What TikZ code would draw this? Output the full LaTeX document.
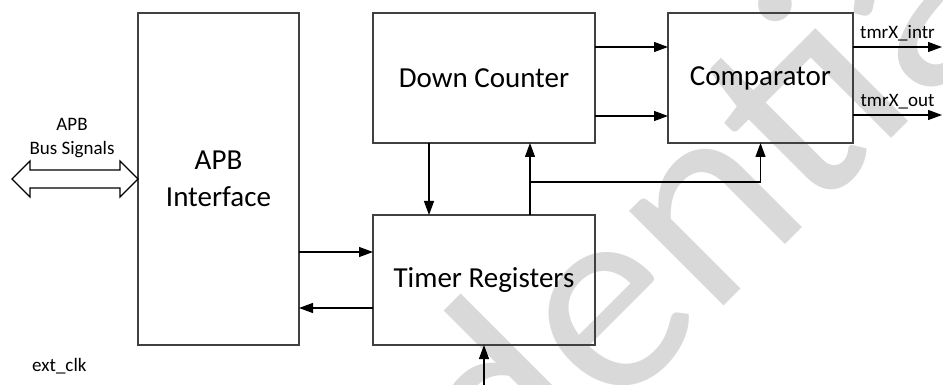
\documentclass[tikz,border=0pt]{standalone}
\usepackage{fontspec}
\setmainfont{Carlito}
\usetikzlibrary{arrows.meta, positioning, calc}

\begin{document}
\begin{tikzpicture}[
    x=1pt, y=-1pt,
    % node styles
    block/.style={rectangle, draw=black!75, line width=1.4pt, align=center, inner sep=0pt, outer sep=0pt, font=\fontsize{29}{37}\selectfont},
    siglabel/.style={inner sep=2pt, font=\fontsize{19}{24}\selectfont, align=center},
    watermark/.style={text=black!15, rotate=45, inner sep=0pt, font=\fontsize{280}{280}\selectfont},
    % line styles
    sig/.style={-{Triangle[length=14pt,width=10pt]}, line width=1.2pt, draw=black},
    busarrow/.style={draw=black, line width=1.1pt, fill=white, line join=miter}
]
\useasboundingbox (0,0) rectangle (943,385);

% watermark in the back
\begin{scope}
    \clip (0,0) rectangle (943,385);
    \node[watermark] (wm) at (509,385) {Confidential};
\end{scope}

% blocks
\node[block, minimum width=161pt, minimum height=332pt] (apb) at (218.5,179) {APB\\Interface};
\node[block, minimum width=222pt, minimum height=130pt] (dc) at (484,78) {Down Counter};
\node[block, minimum width=222pt, minimum height=130pt, below=72pt of dc] (tr) {Timer Registers};
\node[block, minimum width=185pt, minimum height=130pt, right=73pt of dc] (cmp) {Comparator};

% bus signals (hollow double arrow)
\draw[busarrow] (apb.west) -- ++(-18,-18) -- ++(0,9) -- ++(-90,0) -- ++(0,-9) -- ++(-18,18)
    -- ++(18,18) -- ++(0,-9) -- ++(90,0) -- ++(0,9) -- cycle;
\node[siglabel] (buslbl) at (72,138) {APB\\Bus Signals};

% APB <-> timer registers
\coordinate (trin) at ($(tr.west)+(0,-28)$);
\coordinate (trout) at ($(tr.west)+(0,28)$);
\draw[sig] (trin -| apb.east) -- (trin);
\draw[sig] (trout) -- (trout -| apb.east);

% down counter -> comparator
\coordinate (dca) at ($(dc.east)+(0,-31)$);
\coordinate (dcb) at ($(dc.east)+(0,38)$);
\draw[sig] (dca) -- (dca -| cmp.west);
\draw[sig] (dcb) -- (dcb -| cmp.west);

% down counter <-> timer registers, and to comparator
\coordinate (dn) at ($(dc.south)+(-55,0)$);
\draw[sig] (dn) -- (dn |- tr.north);
\coordinate (up) at ($(tr.north)+(46,0)$);
\draw[sig] (up) -- (up |- dc.south);
\coordinate (br) at ($(up)+(0,-33)$);
\draw[sig] (br) -| (cmp.south);

% outputs
\coordinate (intr) at ($(cmp.east)+(89,-31)$);
\coordinate (tout) at ($(cmp.east)+(89,37)$);
\draw[sig] (intr -| cmp.east) -- (intr) node[siglabel, midway, above=3pt] (lintr) {tmrX\_intr};
\draw[sig] (tout -| cmp.east) -- (tout) node[siglabel, midway, above=3pt] (lout) {tmrX\_out};

% external clock
\node[siglabel, anchor=west] (clk) at (30,366) {ext\_clk};
\coordinate (clkin) at ($(tr.south)+(0,42)$);
\draw[sig] (clkin) -- (tr.south);

\end{tikzpicture}
\end{document}
